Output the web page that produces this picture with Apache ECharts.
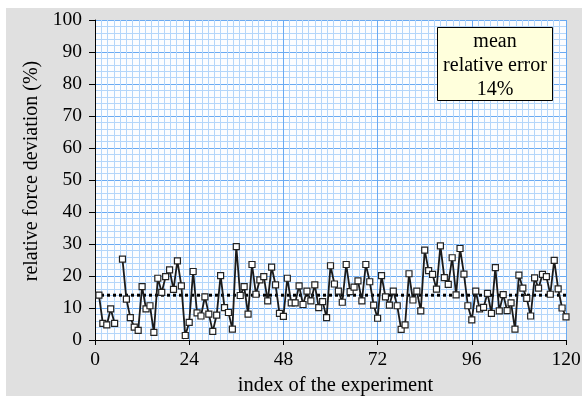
<!DOCTYPE html>
<html>
<head>
<meta charset="utf-8">
<script src="https://cdn.jsdelivr.net/npm/echarts@6/dist/echarts.min.js"></script>
<style>
html,body{margin:0;padding:0;background:#ffffff;}
#chart{width:582px;height:396px;}
</style>
</head>
<body>
<div id="chart"></div>
<script>
// ---- data ----
var experimentIndex = [];
for (var i = 1; i <= 120; i++) experimentIndex.push(i);
var deviationValues = [
  14.0, 5.2, 4.7, 9.7, 5.2, null, 25.3, 12.8, 7.0, 4.0,
  3.0, 16.7, 9.7, 10.7, 2.4, 19.3, 14.9, 19.8, 21.9, 15.8,
  24.7, 16.9, 1.4, 5.5, 21.4, 8.5, 7.5, 13.5, 8.1, 2.7,
  7.8, 20.1, 10.1, 8.6, 3.4, 29.2, 13.9, 16.7, 8.1, 23.6,
  14.3, 18.8, 19.8, 12.2, 22.8, 17.2, 8.3, 7.4, 19.3, 11.6,
  11.6, 16.9, 11.1, 15.3, 12.2, 17.2, 10.1, 12.0, 7.0, 23.2,
  17.5, 15.3, 11.8, 23.6, 15.1, 16.5, 18.5, 12.2, 23.6, 18.2,
  10.9, 6.8, 20.1, 13.5, 10.9, 15.3, 10.7, 3.3, 4.7, 20.7,
  12.5, 15.3, 9.1, 28.1, 21.7, 20.5, 15.9, 29.4, 19.5, 17.4,
  25.7, 14.1, 28.6, 20.6, 10.7, 6.3, 15.3, 9.7, 10.2, 14.6,
  8.3, 22.6, 9.1, 14.2, 9.2, 11.6, 3.4, 20.3, 16.2, 13.0,
  7.5, 19.4, 16.2, 20.5, 19.8, 14.3, 24.9, 16.0, 10.0, 7.2
];
var meanValue = 14;
var meanRange = [0, 120];
var xTicks = [0, 24, 48, 72, 96, 120];
var yTicks = [0, 10, 20, 30, 40, 50, 60, 70, 80, 90, 100];
var boxLines = ['mean', 'relative error', '14%'];

var seriesData = experimentIndex.map(function (x, k) {
  var v = deviationValues[k];
  return [x, v === null ? '-' : v];
});
var meanData = meanRange.map(function (x) { return [x, meanValue]; });

var serif = '"Liberation Serif", "DejaVu Serif", serif';
var chart = echarts.init(document.getElementById('chart'), null, {renderer: 'canvas'});
chart.setOption({
  backgroundColor: '#ffffff',
  animation: false,
  grid: {left: 95, right: 16, top: 20, bottom: 56, show: true, backgroundColor: '#fcfdff', borderWidth: 0,
         containLabel: false, outerBoundsMode: 'none'},
  xAxis: {
    type: 'value', min: xTicks[0], max: xTicks[xTicks.length - 1], interval: 24,
    name: 'index of the experiment', nameLocation: 'middle', nameGap: 33,
    nameTextStyle: {fontFamily: serif, fontSize: 20.5, color: '#000', padding: [0, 0, 0, 10]},
    axisLine: {show: true, lineStyle: {color: '#000', width: 1}},
    axisTick: {show: true, inside: false, length: 5, lineStyle: {color: '#000'}},
    axisLabel: {fontFamily: serif, fontSize: 19.5, color: '#000', margin: 10},
    splitLine: {show: true, lineStyle: {color: '#6aaaf2', width: 1}},
    minorTick: {show: false, splitNumber: 15},
    minorSplitLine: {show: true, lineStyle: {color: '#b4d6fa', width: 1}}
  },
  yAxis: {
    type: 'value', min: yTicks[0], max: yTicks[yTicks.length - 1], interval: 10,
    name: 'relative force deviation (%)', nameLocation: 'middle', nameGap: 47,
    nameTextStyle: {fontFamily: serif, fontSize: 20, color: '#000', padding: [0, 0, 0, 18]},
    axisLine: {show: true, lineStyle: {color: '#000', width: 1}},
    axisTick: {show: true, inside: false, length: 6, lineStyle: {color: '#000'}},
    axisLabel: {fontFamily: serif, fontSize: 19.5, color: '#000', margin: 13},
    splitLine: {show: true, lineStyle: {color: '#6aaaf2', width: 1}},
    minorTick: {show: false, splitNumber: 5},
    minorSplitLine: {show: true, lineStyle: {color: '#b4d6fa', width: 1}}
  },
  series: [
    {
      type: 'line', data: meanData, symbol: 'none', silent: true, z: 2,
      lineStyle: {color: '#000', width: 3, type: [3, 3]}
    },
    {
      type: 'line', data: seriesData, connectNulls: false, z: 3,
      symbol: 'rect', symbolSize: 6, showAllSymbol: true,
      lineStyle: {color: '#1a1a1a', width: 1.8},
      itemStyle: {color: '#ffffff', borderColor: '#222', borderWidth: 1.2}
    }
  ],
  graphic: [
    {
      type: 'rect', left: 6, top: 8, z: -10, silent: true,
      shape: {width: 576, height: 388},
      style: {fill: '#e0e0e0'}
    },
    {
      type: 'group', left: 437, top: 27, z: 100,
      children: [
        {type: 'rect', z: 100, shape: {x: 0, y: 0, width: 115, height: 73},
         style: {fill: '#ffffdc', stroke: '#000', lineWidth: 1}},
        {type: 'text', z: 101, x: 57.5, y: 14.5, style: {text: boxLines[0], font: '20px ' + serif, fill: '#000', textAlign: 'center', textVerticalAlign: 'middle'}},
        {type: 'text', z: 101, x: 57.5, y: 38, style: {text: boxLines[1], font: '20px ' + serif, fill: '#000', textAlign: 'center', textVerticalAlign: 'middle'}},
        {type: 'text', z: 101, x: 57.5, y: 62, style: {text: boxLines[2], font: '20px ' + serif, fill: '#000', textAlign: 'center', textVerticalAlign: 'middle'}}
      ]
    }
  ]
});
</script>
</body>
</html>
